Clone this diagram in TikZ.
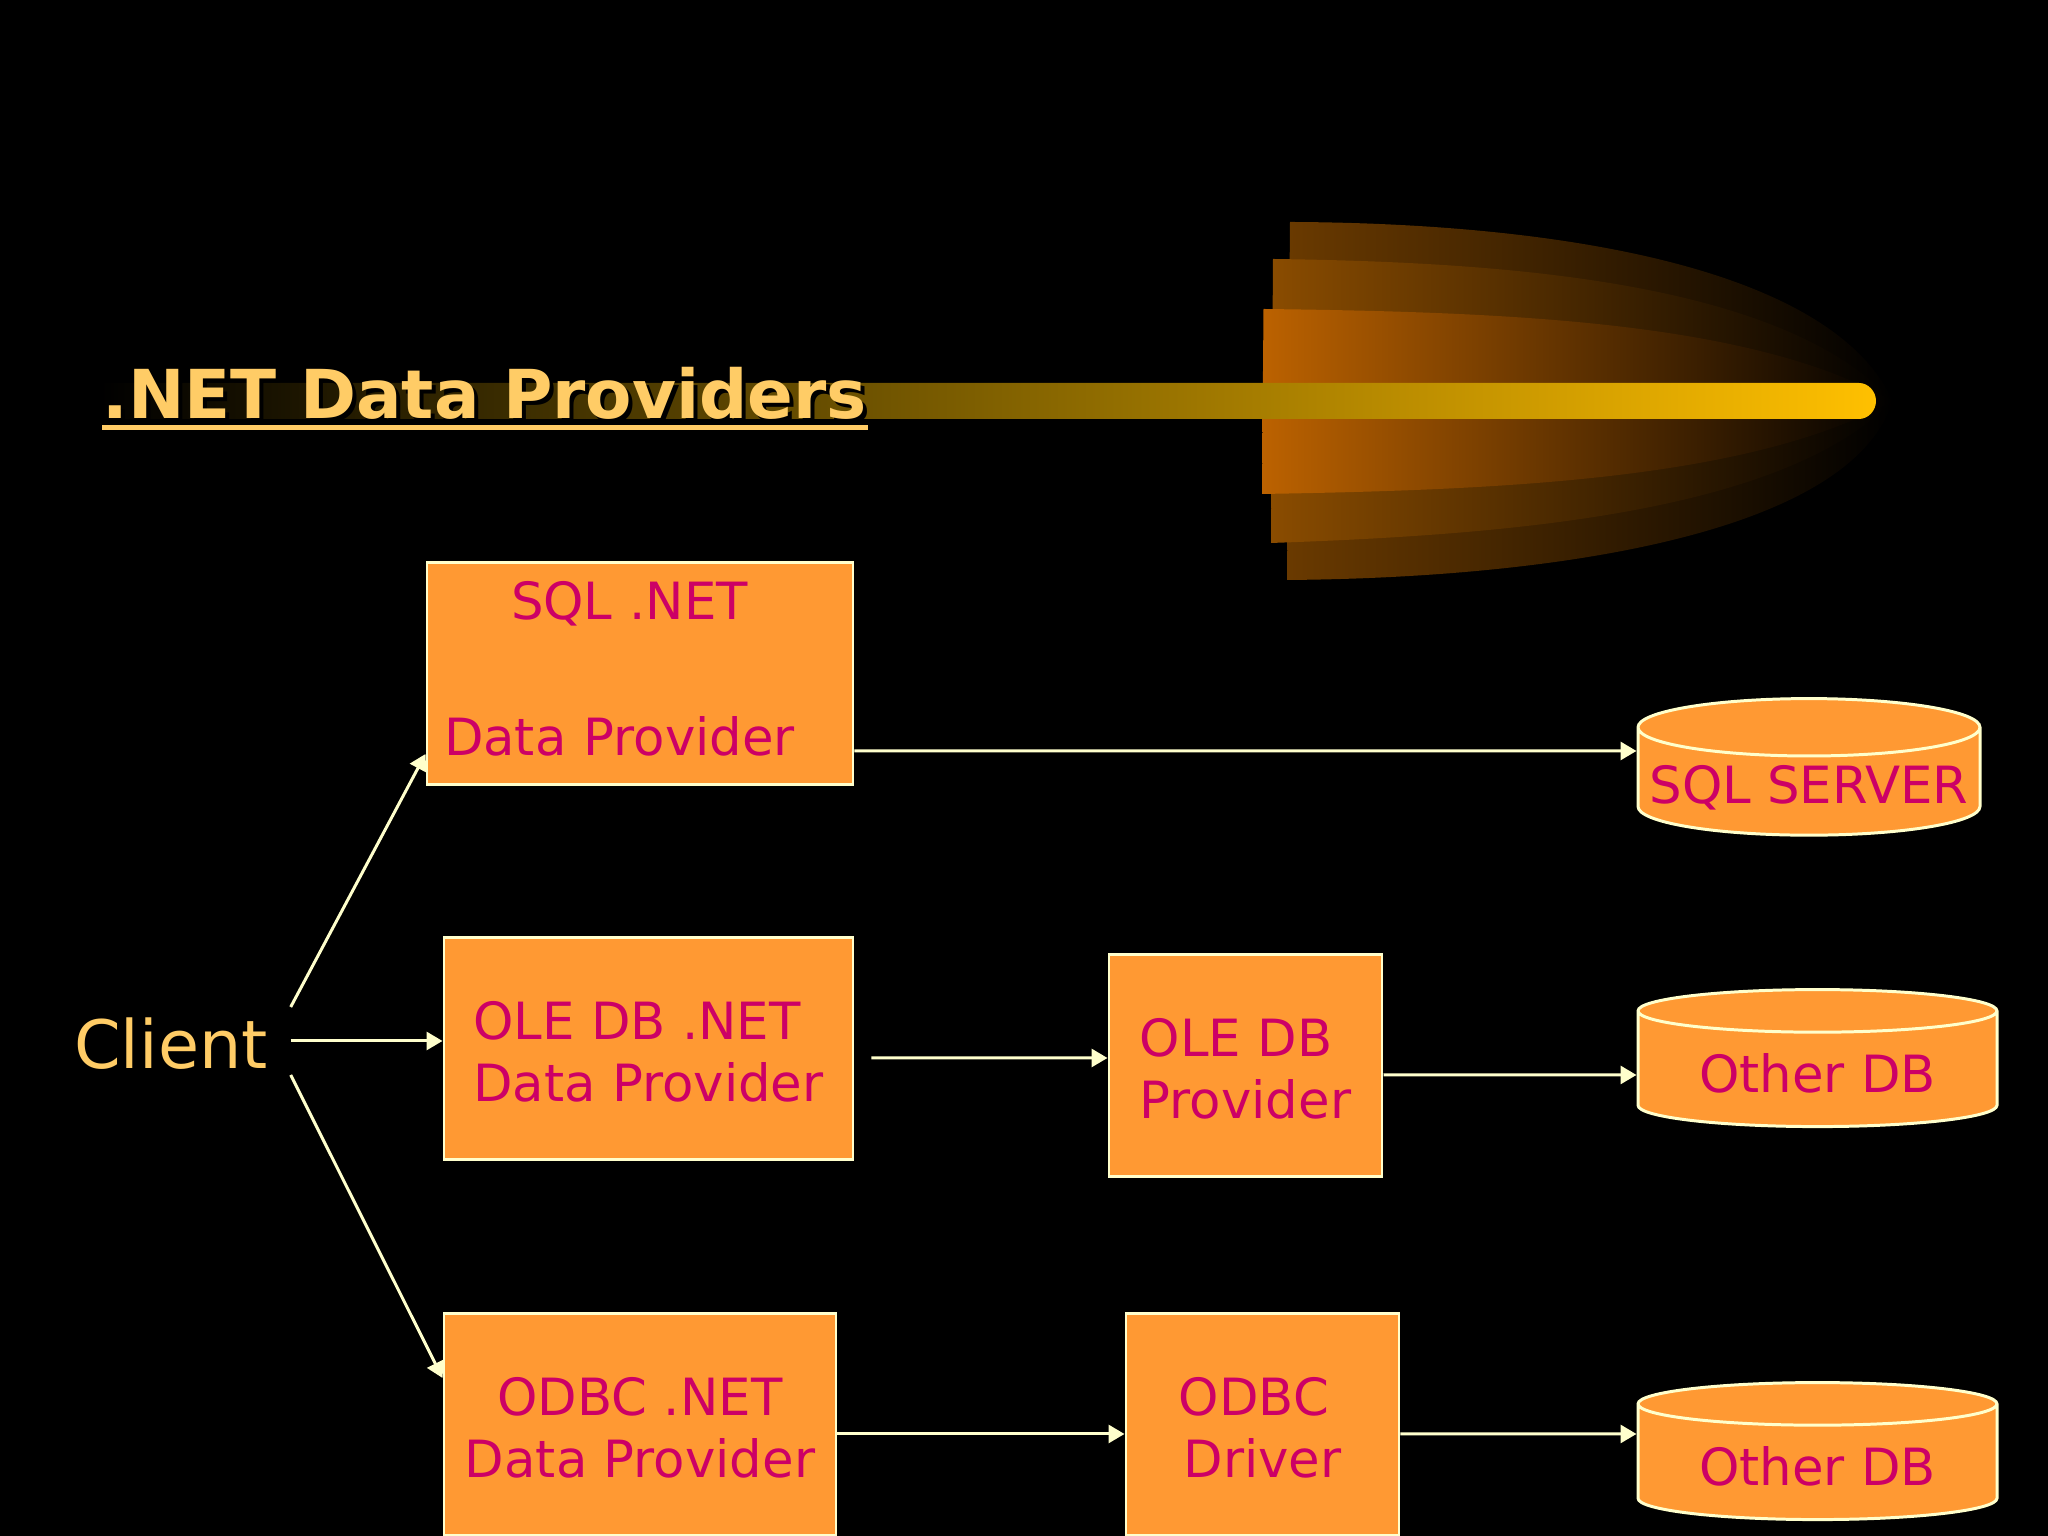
\documentclass[tikz,border=0pt]{standalone}
\usepackage{fontspec}
\setmainfont{DejaVu Sans}
\usepackage{xcolor}
\usepackage{tikz}
\usetikzlibrary{arrows.meta,calc,positioning,shapes.geometric}
\definecolor{boxfill}{HTML}{FF9933}
\definecolor{boxtext}{HTML}{CC0066}
\definecolor{paleline}{HTML}{FFFFCC}
\definecolor{goldtext}{HTML}{FFCC66}
\definecolor{barend}{HTML}{FFC000}
\definecolor{glowinner}{HTML}{BC6200}
\definecolor{glowmiddle}{HTML}{8A4C00}
\definecolor{glowouter}{HTML}{6A3A00}

\begin{document}
\begin{tikzpicture}[
		provider/.style={rectangle, draw=paleline, fill=boxfill, line width=0.85pt, text=boxtext, minimum height=2.22cm, align=center, font=\fontsize{14.6}{17.4}\selectfont},
		twolines/.style={provider, text height=1.05cm},
		database/.style={cylinder, shape border rotate=90, aspect=0.18, draw=paleline, fill=boxfill, line width=0.85pt, text=boxtext, inner sep=0pt, text height=0.46cm, text depth=0pt, font=\fontsize{14.6}{17.4}\selectfont},
		link/.style={draw=paleline, line width=0.85pt, -{Triangle[length=1.6mm,width=1.8mm]}},
		]
		
		\useasboundingbox (0,0) rectangle (20.48,15.36);
		\fill[black] (0,0) rectangle (20.48,15.36);
		
		% The glow behind the bar
		\shade[left color=glowouter, right color=black] (12.90,13.14) .. controls (15.50,13.13) and (18.30,12.71) .. (18.93,11.35) .. controls (18.50,10.01) and (15.50,9.58) .. (12.87,9.56) -- cycle;
		\shade[left color=glowmiddle, right color=black] (12.73,12.77) .. controls (15.00,12.74) and (17.80,12.56) .. (18.93,11.35) .. controls (17.80,10.21) and (15.00,10.01) .. (12.71,9.93) -- cycle;
		\shade[left color=glowinner, right color=black] (12.635,12.27) .. controls (15.00,12.24) and (17.50,12.16) .. (18.93,11.35) .. controls (17.50,10.56) and (15.00,10.46) .. (12.62,10.42) -- cycle;
		
		% The bar
		\shade[left color=black, right color=barend] (1.00,11.53) -- (18.59,11.53) .. controls (18.68,11.53) and (18.76,11.45) .. (18.76,11.35) .. controls (18.76,11.25) and (18.68,11.17) .. (18.59,11.17) -- (1.00,11.17) -- cycle;
		
		% The title
		\node[text=black, font=\fontsize{19.2}{23}\bfseries, anchor=base west, inner sep=0pt] (titleshadow) at (1.06,11.13) {.NET Data Providers};
		\node[text=goldtext, font=\fontsize{19.2}{23}\bfseries, anchor=base west, inner sep=0pt] (title) at (1.02,11.17) {.NET Data Providers};
		\draw[goldtext, line width=1.2pt] ([yshift=-0.085cm]title.base west) -- ([yshift=-0.085cm]title.base east);
		
		% The boxes
		\node[text=goldtext, font=\fontsize{19}{23}\selectfont, minimum width=2.38cm, inner sep=0pt] (client) at (1.71,4.925) {Client};
		\node[provider, minimum width=4.26cm, text width=3.92cm, inner xsep=0.17cm, align=left] (sqlbox) at (6.40,8.62) {\hspace*{0.67cm}SQL .NET\\[0.75cm]Data Provider\rule[-0.107cm]{0pt}{0pt}};
		\node[twolines, minimum width=4.09cm, align=left] (olebox) at (6.485,4.87) {OLE DB .NET\\Data Provider};
		\node[twolines, minimum width=2.73cm, align=left] (oleprov) at (12.455,4.70) {OLE DB\\Provider};
		\node[twolines, minimum width=3.92cm] (odbcbox) at (6.40,1.11) {ODBC .NET\\Data Provider};
		\node[twolines, minimum width=2.73cm] (odbcdrv) at (12.625,1.11) {ODBC\hspace*{0.17cm}\\Driver};
		
		% The databases
		\node[database, minimum width=3.42cm, minimum height=1.36cm, text depth=0.03cm] (sqldb) at (18.09,7.54) {SQL SERVER};
		\node[database, minimum width=3.59cm, minimum height=1.37cm] (otherdba) at (18.175,4.665) {Other DB};
		\node[database, minimum width=3.59cm, minimum height=1.37cm] (otherdbb) at (18.175,0.735) {Other DB};
		
		% The arrows
		\draw[link] ([yshift=0.365cm]client.east) -- ([yshift=-0.80cm]sqlbox.west);
		\draw[link] ([yshift=0.025cm]client.east) -- ([yshift=0.08cm]olebox.west);
		\draw[link] ([yshift=-0.315cm]client.east) -- ([yshift=0.47cm]odbcbox.west);
		\draw[link] ([yshift=-0.77cm]sqlbox.east) -- ([yshift=0.31cm]sqldb.west);
		\draw[link] ([xshift=0.17cm,yshift=-0.09cm]olebox.east) -- ([yshift=0.08cm]oleprov.west);
		\draw[link] ([yshift=-0.09cm]oleprov.east) -- ([yshift=-0.055cm]otherdba.west);
		\draw[link] ([yshift=-0.09cm]odbcbox.east) -- ([yshift=-0.09cm]odbcdrv.west);
		\draw[link] ([yshift=-0.09cm]odbcdrv.east) -- ([yshift=0.285cm]otherdbb.west);
	\end{tikzpicture}
\end{document}
